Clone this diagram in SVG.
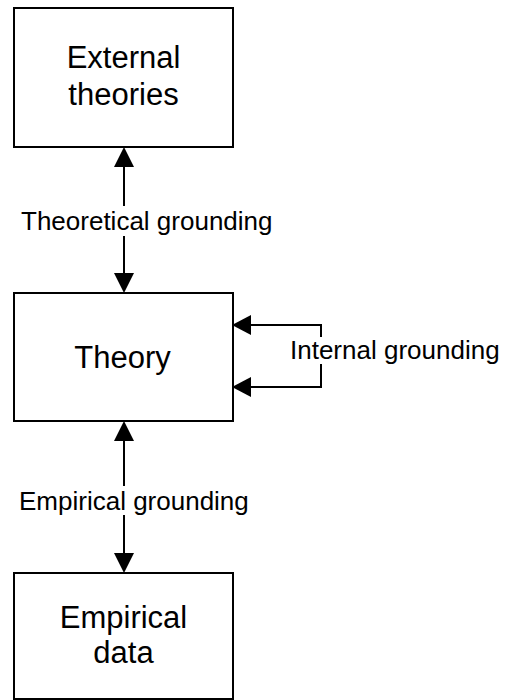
<svg xmlns="http://www.w3.org/2000/svg" width="507" height="700" viewBox="0 0 507 700">
<style>
.box{fill:#fff;stroke:#000;stroke-width:2}
.t{font-family:"Liberation Sans",Arial,sans-serif;fill:#000}
.n{font-size:31px;text-anchor:middle}
.l{font-size:26px}
.c{fill:none;stroke:#000;stroke-width:2}
.h{fill:#000;stroke:none}
</style>
<rect width="507" height="700" fill="#fff"/>
<g id="external">
<rect class="box" x="14" y="8" width="219" height="139"/>
<text class="t n" x="123.5" y="68">External</text>
<text class="t n" x="123.5" y="105">theories</text>
</g>
<g id="theory">
<rect class="box" x="14" y="293" width="219" height="128"/>
<text class="t n" x="122.5" y="368">Theory</text>
</g>
<g id="empirical">
<rect class="box" x="14" y="573" width="219" height="126"/>
<text class="t n" x="123.5" y="628">Empirical</text>
<text class="t n" x="123.5" y="663">data</text>
</g>
<g id="connectors">
<path class="c" d="M124 166 V206 M124 236 V274"/>
<polygon class="h" points="124,147 114,167 134,167"/>
<polygon class="h" points="124,293 114,273 134,273"/>
<path class="c" d="M124 439 V486 M124 515 V555"/>
<polygon class="h" points="124,421 114,441 134,441"/>
<polygon class="h" points="124,573 114,553 134,553"/>
<path class="c" d="M249 325 H321 V337 M321 364 V387 H249"/>
<polygon class="h" points="232,325 251,315 251,335"/>
<polygon class="h" points="232,387 251,377 251,397"/>
</g>
<g id="labels">
<text class="t l" x="21" y="230">Theoretical grounding</text>
<text class="t l" x="290" y="359">Internal grounding</text>
<text class="t l" x="19" y="510">Empirical grounding</text>
</g>
</svg>
